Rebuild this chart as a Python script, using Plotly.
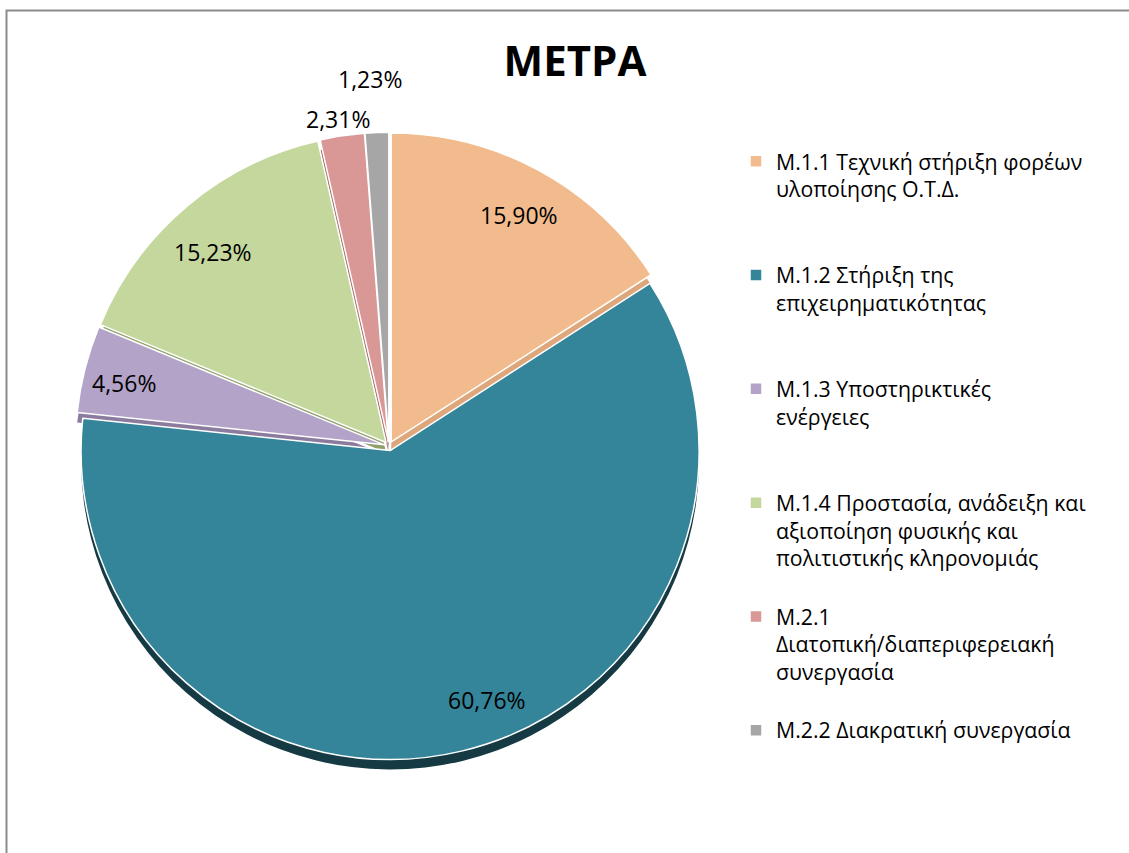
import math
import plotly.graph_objects as go

categories = [
    "Μ.1.1 Τεχνική στήριξη φορέων<br>υλοποίησης Ο.Τ.Δ.",
    "Μ.1.2 Στήριξη της<br>επιχειρηματικότητας",
    "Μ.1.3 Υποστηρικτικές<br>ενέργειες",
    "Μ.1.4 Προστασία, ανάδειξη και<br>αξιοποίηση φυσικής και<br>πολιτιστικής κληρονομιάς",
    "Μ.2.1<br>Διατοπική/διαπεριφερειακή<br>συνεργασία",
    "Μ.2.2 Διακρατική συνεργασία",
]
values = [15.90, 60.76, 4.56, 15.23, 2.31, 1.23]

# styles
colors = ["#F2BB8D", "#34849A", "#B3A3C8", "#C4D79C", "#D99896", "#A6A6A6"]
shadow_colors = ["#DDA77B", "#163A44", "#8B7B9E", "#8FA06A", "#A86A68", "#7F7F7F"]
label_radius = [0.85, 0.89, 0.88, 0.84, 1.06, 1.18]   # fraction of pie radius
label_nudge = [1.0, -7.5, -1.5, -2.5, -0.4, -0.8]     # degrees
PULL = 0.015

labels_txt = [f"{v:.2f}%".replace(".", ",") for v in values]

# legend labels padded to equal height (4 lines)
legend_labels = []
for c in categories:
    n = c.count("<br>") + 1
    legend_labels.append(c + "<br> " * (4 - n) if n < 4 else c)

FONT = "'Open Sans', 'Noto Sans', sans-serif"
W, H = 1129, 853
cx, cy, r = 389, 446, 309          # pie centre / radius in pixels
D = r * (1 + PULL)

dom_x = [(cx - D) / W, (cx + D) / W]
dom_y = [1 - (cy + D) / H, 1 - (cy - D) / H]
sh = 10 / H

fig = go.Figure()
fig.add_trace(go.Pie(
    labels=legend_labels, values=values, sort=False, direction="clockwise", rotation=0,
    marker=dict(colors=shadow_colors, line=dict(color="#FFFFFF", width=0)),
    pull=[PULL] * len(values), textinfo="none", showlegend=False, hoverinfo="skip",
    domain=dict(x=dom_x, y=[dom_y[0] - sh, dom_y[1] - sh]),
))
fig.add_trace(go.Pie(
    labels=legend_labels, values=values, sort=False, direction="clockwise", rotation=0,
    marker=dict(colors=colors, line=dict(color="#FFFFFF", width=1.5)),
    pull=[PULL] * len(values), textinfo="none", hoverinfo="label+percent",
    domain=dict(x=dom_x, y=dom_y),
))

# data labels placed along each slice's mid-angle (derived from the values)
total = sum(values)
annotations = []
cum = 0.0
for v, t, f, nd in zip(values, labels_txt, label_radius, label_nudge):
    mid = (cum + v / 2) / total * 360 + nd
    cum += v
    a = math.radians(mid)
    px = cx + f * r * math.sin(a)
    py = (cy - 3) - f * r * math.cos(a)
    annotations.append(dict(x=px / W, y=1 - py / H, xref="paper", yref="paper", text=t,
                            showarrow=False, xanchor="center", yanchor="middle",
                            font=dict(family=FONT, size=23, color="#000000")))

fig.update_layout(
    width=W, height=H,
    margin=dict(l=0, r=0, t=0, b=0),
    paper_bgcolor="#FFFFFF",
    title=dict(text="<b>ΜΕΤΡΑ</b>", x=575 / W, xanchor="center", y=1 - 61 / H, yanchor="middle",
               font=dict(family=FONT, size=42, color="#000000")),
    legend=dict(x=736 / W, xanchor="left", y=1 - 141 / H, yanchor="top", valign="top",
                font=dict(family=FONT, size=21.3, color="#000000"), traceorder="normal",
                itemwidth=30, bgcolor="rgba(0,0,0,0)"),
    annotations=annotations,
    shapes=[dict(type="rect", xref="paper", yref="paper", x0=6.5 / W, x1=1.2, y0=-0.2, y1=1 - 10.5 / H,
                 line=dict(color="#8C8C8C", width=2), fillcolor="rgba(0,0,0,0)")],
)

fig.write_html("out.html", config={"displayModeBar": False},
               post_script="document.body.style.margin='0';")
